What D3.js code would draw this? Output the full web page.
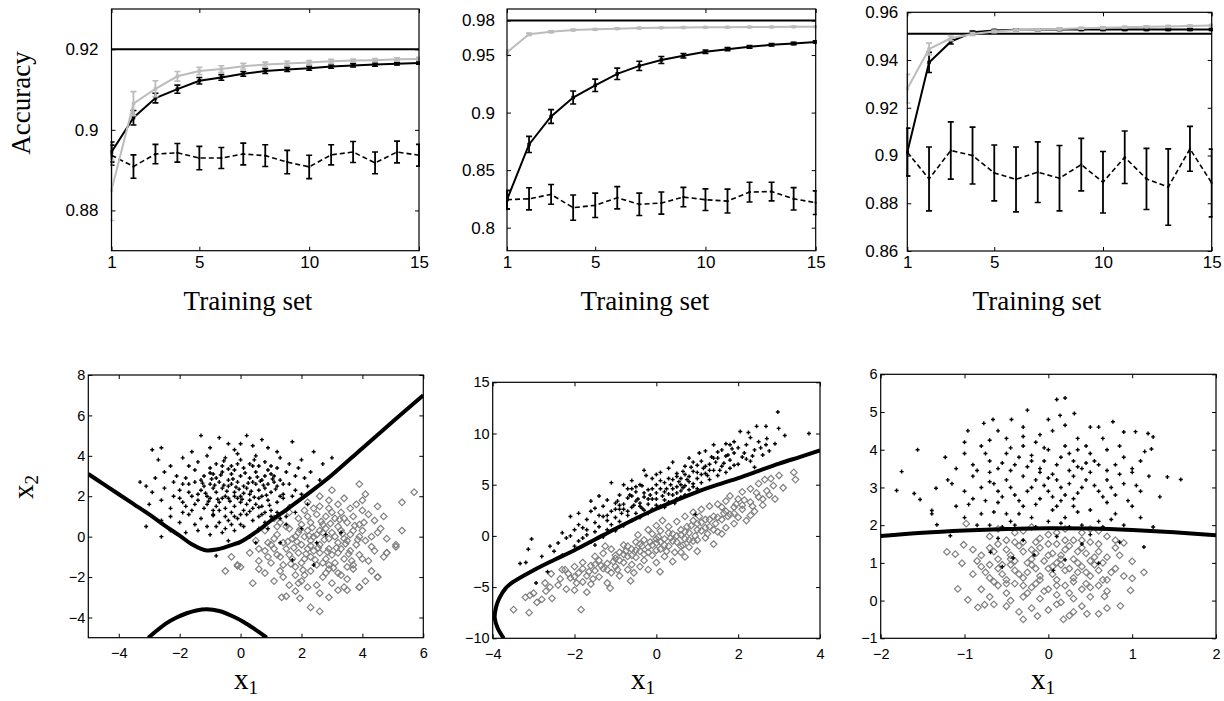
<!DOCTYPE html>
<html><head><meta charset="utf-8">
<script src="https://cdn.jsdelivr.net/npm/d3@7"></script>
<style>body{margin:0;background:#fff}svg{display:block}</style>
</head><body>
<svg id="c" width="1224" height="701"></svg>
<script>
// ---------------- DATA ----------------
const trainSizes = [1,2,3,4,5,6,7,8,9,10,11,12,13,14,15];
const xTickVals = [1,5,10,15];
const xTickLabels = ["1","5","10","15"];

const acc1Ref = 0.92;
const acc1Gray = [0.885,0.9065,0.9102,0.9133,0.9146,0.9151,0.9158,0.9162,0.9165,0.9167,0.9170,0.9172,0.9173,0.9175,0.9176];
const acc1GrayErr = [0.0075,0.003,0.002,0.0012,0.0009,0.0008,0.0007,0.0006,0.0006,0.0005,0.0005,0.0004,0.0004,0.0004,0.0004];
const acc1Black = [0.8945,0.9030,0.9079,0.9101,0.9122,0.9130,0.9139,0.9146,0.9150,0.9153,0.9157,0.9160,0.9162,0.9164,0.9166];
const acc1BlackErr = [0.0025,0.0018,0.0012,0.001,0.0008,0.0007,0.0006,0.0006,0.0005,0.0005,0.0004,0.0004,0.0004,0.0003,0.0003];
const acc1Dash = [0.8937,0.8909,0.8940,0.8943,0.8930,0.8930,0.8940,0.8936,0.8920,0.8908,0.8938,0.8945,0.8918,0.8945,0.8937];
const acc1DashErr = [0.0025,0.0029,0.0024,0.0023,0.0029,0.0026,0.0027,0.0027,0.0029,0.0029,0.0025,0.0026,0.0027,0.0027,0.0027];
const acc1YTicks = [0.88,0.9,0.92];
const acc1YLabels = ["0.88","0.9","0.92"];

const acc2Ref = 0.98;
const acc2Gray = [0.9523,0.968,0.9703,0.9717,0.9723,0.9729,0.9734,0.9737,0.9739,0.9741,0.9742,0.9743,0.9744,0.9745,0.9746];
const acc2GrayErr = [0.002,0.001,0.0008,0.0006,0.0005,0.0005,0.0005,0.0004,0.0004,0.0004,0.0004,0.0004,0.0004,0.0004,0.0004];
const acc2Black = [0.8243,0.8723,0.8966,0.9131,0.9237,0.9337,0.9406,0.9457,0.9494,0.9529,0.9551,0.9571,0.9589,0.9600,0.9614];
const acc2BlackErr = [0.008,0.007,0.006,0.0057,0.0054,0.0049,0.004,0.003,0.002,0.0015,0.0013,0.0012,0.0011,0.001,0.001];
const acc2Dash = [0.8243,0.8251,0.8289,0.8174,0.8194,0.8260,0.8203,0.8214,0.8266,0.8243,0.8231,0.8309,0.8314,0.8251,0.8217];
const acc2DashErr = [0.008,0.0096,0.0086,0.011,0.0106,0.0097,0.0097,0.0096,0.0084,0.0094,0.0104,0.0086,0.0081,0.0097,0.0103];
const acc2YTicks = [0.8,0.85,0.9,0.95,0.98];
const acc2YLabels = ["0.8","0.85","0.9","0.95","0.98"];

const acc3Ref = 0.951;
const acc3Gray = [0.928,0.9446,0.9491,0.9509,0.9520,0.9526,0.9527,0.9530,0.9533,0.9535,0.9537,0.9539,0.9541,0.9543,0.9545];
const acc3GrayErr = [0.006,0.0025,0.001,0.0006,0.0005,0.0004,0.0004,0.0004,0.0004,0.0004,0.0004,0.0004,0.0004,0.0004,0.0004];
const acc3Black = [0.9014,0.939,0.9477,0.9516,0.9524,0.9527,0.9527,0.9528,0.9528,0.9528,0.9528,0.9528,0.9528,0.9528,0.9528];
const acc3BlackErr = [0.01,0.0042,0.001,0.0005,0.0004,0.0004,0.0004,0.0004,0.0004,0.0004,0.0004,0.0004,0.0004,0.0004,0.0004];
const acc3Dash = [0.9014,0.8902,0.9021,0.9,0.8927,0.89,0.893,0.8905,0.8962,0.8888,0.8993,0.8902,0.8868,0.9028,0.8885];
const acc3DashErr = [0.01,0.0134,0.012,0.0119,0.0117,0.0136,0.0127,0.0137,0.011,0.0129,0.011,0.0128,0.016,0.0094,0.0142];
const acc3YTicks = [0.86,0.88,0.9,0.92,0.94,0.96];
const acc3YLabels = ["0.86","0.88","0.9","0.92","0.94","0.96"];

// scatter 1
const scat1Black = [[-1.3,5.0],[-2.9,4.3],[-2.6,4.4],[0.2,5.0],[-0.7,4.9],[0.7,4.8],[1.7,4.7],[-0.4,4.6],[0.4,4.5],[-1.0,4.4],[0.9,4.4],[-0.2,4.3],[1.2,4.2],[-1.6,4.2],[0.0,4.6],
[-2.7,3.8],[-1.9,3.9],[-1.4,3.7],[-1.1,4.0],[-0.8,3.6],[-0.5,3.9],[-0.3,3.5],[0.0,3.8],[0.3,3.6],[0.5,4.0],[0.8,3.7],[1.0,3.5],[1.3,3.9],[1.6,3.6],[2.0,3.8],[2.4,4.2],[3.0,3.9],[2.7,3.6],[-2.3,3.5],[-1.7,3.5],[-0.1,4.1],[0.6,3.5],[-0.6,3.5],[1.9,3.4],
[-3.3,2.7],[-3.1,2.5],[-2.5,3.2],[-2.1,3.0],[-1.8,2.9],[-1.5,3.3],[-1.2,3.0],[-1.0,3.4],[-0.8,2.9],[-0.6,3.2],[-0.4,2.8],[-0.2,3.3],[0.0,3.0],[0.1,3.4],[0.3,2.9],[0.5,3.2],[0.7,2.8],[0.9,3.3],[1.1,3.0],[1.3,2.8],[1.5,3.2],[1.8,3.0],[2.1,2.9],[2.3,3.2],[-1.3,2.8],[-0.3,3.1],[0.4,3.5],[1.2,3.4],[-0.9,3.1],[0.8,3.0],[-2.8,2.9],[2.6,2.8],
[-2.9,2.2],[-2.5,2.4],[-2.2,2.0],[-1.9,2.6],[-1.7,2.2],[-1.5,2.7],[-1.3,2.3],[-1.1,2.0],[-1.0,2.6],[-0.8,2.2],[-0.7,2.7],[-0.5,2.0],[-0.4,2.5],[-0.2,2.2],[-0.1,2.7],[0.0,2.0],[0.2,2.4],[0.3,2.1],[0.4,2.7],[0.6,2.3],[0.7,2.0],[0.9,2.6],[1.0,2.2],[1.2,2.5],[1.4,2.1],[1.6,2.6],[1.8,2.3],[2.0,2.1],[-1.6,2.0],[-0.6,2.4],[0.1,2.5],[0.5,2.6],[1.1,2.7],[-0.9,2.4],[-0.3,2.6],[0.8,2.4],[-1.2,2.5],[1.3,2.0],[-2.0,2.3],[-0.2,2.0],
[-3.0,1.6],[-2.6,1.8],[-2.3,1.4],[-2.0,1.9],[-1.8,1.5],[-1.6,1.3],[-1.4,1.8],[-1.2,1.4],[-1.0,1.9],[-0.9,1.3],[-0.7,1.7],[-0.5,1.4],[-0.4,1.9],[-0.2,1.5],[0.0,1.7],[0.1,1.3],[0.3,1.8],[0.4,1.4],[0.6,1.9],[0.7,1.5],[0.9,1.8],[1.0,1.3],[1.2,1.7],[1.4,1.9],[1.6,1.5],[-1.1,1.6],[-0.3,1.2],[0.2,1.6],[0.8,1.2],[-0.6,1.9],[-1.5,1.6],[0.5,1.6],[-0.8,1.5],[-0.1,1.9],
[-3.1,0.5],[-2.6,0.8],[-2.3,1.0],[-2.0,0.7],[-1.7,1.1],[-1.5,0.6],[-1.3,0.9],[-1.1,0.5],[-0.9,1.1],[-0.7,0.7],[-0.5,1.0],[-0.3,0.6],[-0.1,0.9],[0.1,0.5],[0.2,1.1],[0.4,0.8],[0.6,1.0],[0.8,0.7],[1.0,1.0],[1.3,0.9],[-0.8,0.5],[-1.9,1.2],[0.0,1.1],[-0.4,0.8],
[-2.6,0.0],[-2.3,0.3],[-1.8,0.2],[-1.4,0.3],[-1.0,0.1],[-0.6,0.2],[-0.2,0.3],[0.3,0.0],[0.6,0.4],[-0.8,-0.95],[-0.4,-0.2],[0.5,-0.3],
[1.7,-1.15],[2.4,-1.4],[2.8,0.1],[3.3,0.2],[2.0,0.4],[1.3,-0.3],[2.5,-0.3],[1.5,0.6],[1.8,1.2],[2.2,1.6],
[-1.15,2.15],[-0.95,2.85],[-0.75,1.85],[-0.55,2.55],[-0.35,1.75],[-0.15,2.45],[0.05,1.85],[0.25,2.65],[0.45,1.95],[0.65,2.75],[0.85,2.05],[1.05,2.85],[-1.05,1.75],[-0.85,2.55],[-0.65,3.05],[-0.45,2.25],[-0.25,2.85],[-0.05,2.35],[0.15,3.15],[0.35,2.25],[0.55,2.95],[0.75,2.55],[0.95,1.55],[1.15,2.35],[-1.25,2.65],[-0.7,1.3],[-0.2,1.0],[0.3,1.25],[0.7,1.1],[-1.4,2.1],[1.4,2.6],[-0.1,3.6],[0.45,3.8],[-0.55,3.75],[1.0,3.1],[-1.0,3.15],[0.1,2.15],[-0.4,3.35],[0.6,1.45],[-0.9,1.05],[1.5,1.0],[1.7,2.0],[-1.7,2.6],[-1.9,1.7],[2.2,2.5],[-2.2,2.7],[0.0,0.6],[-0.5,0.4],[0.9,0.4],[1.2,1.2]];
const scat1Gray = [[3.9,2.6],[4.1,2.1],[3.0,2.3],[2.6,2.0],[3.4,1.9],[5.7,2.2],[5.3,1.7],[4.5,1.5],[3.8,1.6],[2.2,1.7],[3.2,1.6],[2.9,1.8],[4.0,1.8],
[1.6,1.2],[1.9,0.9],[2.1,1.3],[2.3,0.7],[2.5,1.1],[2.7,0.6],[2.9,1.4],[3.1,0.9],[3.3,1.2],[3.5,0.7],[3.7,1.0],[3.9,0.6],[4.2,1.1],[4.7,1.0],[1.3,0.7],[1.1,0.9],[2.0,0.6],[2.8,1.0],[3.6,1.4],[4.4,0.8],[1.5,0.5],[2.4,1.4],[3.2,0.5],[4.0,1.3],
[0.5,-0.2],[0.8,0.3],[1.0,-0.4],[1.2,0.1],[1.4,-0.3],[1.6,0.4],[1.7,-0.1],[1.9,0.2],[2.0,-0.4],[2.2,0.3],[2.3,-0.2],[2.5,0.1],[2.6,-0.4],[2.8,0.4],[2.9,-0.1],[3.0,0.2],[3.2,-0.3],[3.3,0.3],[3.5,-0.2],[3.6,0.1],[3.8,-0.4],[4.0,0.3],[4.1,-0.2],[4.3,0.0],[4.6,0.4],[5.1,-0.5],[5.3,0.3],[4.8,-0.1],[1.1,-0.1],[1.8,0.0],[2.4,0.0],[2.7,0.2],[3.1,0.0],[3.4,-0.1],[3.9,0.0],[2.1,0.0],[2.6,0.3],[3.7,0.3],
[-0.3,-1.0],[-0.1,-1.4],[0.3,-0.8],[0.6,-1.2],[0.8,-0.7],[1.0,-1.3],[1.2,-0.9],[1.4,-1.4],[1.5,-0.6],[1.7,-1.1],[1.9,-0.8],[2.0,-1.3],[2.2,-0.6],[2.3,-1.0],[2.5,-1.4],[2.6,-0.8],[2.8,-1.1],[2.9,-0.6],[3.1,-1.3],[3.2,-0.8],[3.4,-1.1],[3.6,-0.7],[3.7,-1.4],[3.9,-0.9],[4.2,-1.2],[4.4,-0.7],[4.8,-0.8],[1.1,-0.6],[1.8,-1.5],[2.4,-0.7],[3.0,-0.9],[3.5,-1.5],[2.1,-1.1],[2.7,-1.3],[3.3,-0.6],[0.9,-1.0],[4.0,-1.1],[1.6,-0.9],[2.9,-1.4],
[-0.5,-1.7],[0.4,-2.3],[0.8,-1.8],[1.1,-2.2],[1.3,-1.7],[1.6,-2.4],[1.8,-1.9],[2.0,-2.2],[2.3,-1.7],[2.5,-2.4],[2.7,-2.0],[3.0,-2.3],[3.2,-1.8],[3.5,-2.1],[3.7,-1.6],[4.1,-2.2],[4.5,-2.0],[3.9,-2.5],[2.2,-2.5],[1.4,-2.0],[2.9,-1.6],[0.6,-1.6],[3.4,-2.5],[4.3,-1.7],
[2.3,-3.5],[2.6,-3.7],[2.9,-3.0],[1.95,-3.05],[1.35,-3.0],[1.5,-2.95],[3.2,-2.65],[3.5,-2.65],[3.9,-2.5],[1.8,-2.7],[2.6,-2.8],
[4.7,-1.0],[5.1,-0.4],[4.8,-0.8],[4.5,-2.0],[0.0,-1.5],[-0.1,-1.45],
[1.55,-0.25],[1.75,-0.55],[1.95,0.35],[2.15,-0.85],[2.35,0.45],[2.55,-0.55],[2.75,-0.15],[2.95,0.65],[3.15,-0.55],[3.35,0.15],[3.55,-0.85],[3.75,0.55],[1.65,-1.35],[1.85,-0.25],[2.05,-1.65],[2.25,0.05],[2.45,-1.15],[2.65,0.75],[2.85,-0.75],[3.05,-1.55],[3.25,0.85],[3.45,-0.35],[3.65,-1.2],[3.85,-0.15],[4.05,0.7],[2.2,1.0],[2.6,1.5],[3.0,1.2],[1.3,-1.0],[4.3,-0.5],[2.1,-1.9],[2.8,-1.8],[3.3,-1.9],[1.9,-2.3],[1.2,0.5],[0.9,-0.3],[0.6,-0.6],[4.5,0.2],[3.4,0.9],[2.3,-0.45]];
const bound1Upper = [[-5,3.1],[-4.5,2.6],[-4,2.1],[-3.5,1.6],[-3,1.1],[-2.5,0.56],[-2,0.05],[-1.6,-0.38],[-1.3,-0.6],[-1.1,-0.68],[-0.8,-0.64],[-0.5,-0.52],[-0.2,-0.37],[0,-0.26],[0.5,0.22],[1,0.8],[1.5,1.33],[2,1.88],[2.5,2.45],[3,3.05],[4,4.38],[5,5.7],[6,7.0]];
const bound1Lower = [[-3.03,-5],[-2.43,-4.28],[-2.1,-4.0],[-1.77,-3.79],[-1.45,-3.65],[-1.11,-3.59],[-0.7,-3.68],[-0.24,-3.95],[0.1,-4.22],[0.42,-4.53],[0.86,-5]];

// scatter 2
const scat2Black = [[-3.05,-0.3],[-3.13,-1.3],[-3.33,-2.7],[-3.19,-2.6],[-2.94,-4.6],[-2.66,-3.5],[-2.5,-1.5],[-2.4,-0.7],[-2.3,-1.9],[-2.2,-0.2],[-2.1,1.9],[-2.0,-1.0],[-2.0,0.6],[-1.9,-0.5],[-2.6,-1.0],[-2.8,-2.0],[-2.3,0.3],
[-1.9,1.1],[-1.8,-0.2],[-1.8,0.8],[-1.7,1.6],[-1.7,0.1],[-1.6,2.4],[-1.6,-0.6],[-1.5,1.3],[-1.5,0.4],[-1.4,2.0],[-1.4,0.9],[-1.3,-0.1],[-1.3,2.9],[-1.2,1.5],[-1.2,0.6],[-1.1,2.4],[-1.1,5.2],[-1.1,1.1],[-1.0,3.2],[-1.0,0.5],[-1.0,1.8],[-1.9,2.2],[-1.6,3.4],[-1.4,3.9],[-1.2,3.5],[-1.5,-0.9],
[-0.9,2.6],[-0.9,1.4],[-0.9,4.0],[-0.8,3.1],[-0.8,1.0],[-0.8,5.0],[-0.7,2.0],[-0.7,3.7],[-0.7,4.6],[-0.6,2.8],[-0.6,1.5],[-0.6,5.4],[-0.5,3.4],[-0.5,2.2],[-0.5,4.3],[-0.4,2.9],[-0.4,1.8],[-0.4,5.0],[-0.3,3.8],[-0.3,2.5],[-0.3,6.4],[-0.2,4.5],[-0.2,3.1],[-0.2,2.2],[-0.1,5.6],[-0.1,3.6],[-0.1,2.6],[0.0,4.2],[0.0,3.0],[0.0,5.0],[-0.95,3.4],[-0.65,4.0],[-0.35,4.9],[-0.15,4.0],[-0.85,2.2],[-0.45,3.6],[-0.25,5.9],[-0.55,3.0],
[0.1,2.9],[0.1,4.6],[0.1,6.2],[0.2,3.5],[0.2,5.2],[0.2,2.8],[0.3,4.1],[0.3,6.6],[0.3,3.3],[0.4,5.5],[0.4,4.0],[0.4,7.2],[0.5,3.6],[0.5,4.8],[0.5,6.1],[0.6,4.4],[0.6,5.6],[0.6,3.8],[0.7,6.8],[0.7,4.9],[0.7,4.0],[0.8,5.8],[0.8,7.6],[0.8,4.5],[0.9,6.3],[0.9,5.1],[0.95,2.1],[1.0,4.6],[1.0,6.9],[1.0,5.6],[0.15,3.9],[0.35,5.0],[0.55,5.3],[0.75,5.5],[0.25,4.6],[0.65,6.3],[0.85,6.7],[0.45,3.2],
[1.1,5.2],[1.1,7.3],[1.2,6.1],[1.2,8.3],[1.3,5.5],[1.3,7.0],[1.4,6.4],[1.4,8.9],[1.5,5.9],[1.5,7.6],[1.6,6.8],[1.6,8.4],[1.7,6.2],[1.7,9.0],[1.8,7.4],[1.8,6.6],[1.9,8.1],[1.9,9.2],[2.0,7.0],[2.0,8.6],[1.15,6.6],[1.35,7.7],[1.55,6.4],[1.75,7.9],[1.25,5.9],[1.45,7.2],[1.65,7.1],[1.85,8.5],[1.05,8.1],[1.9,6.9],
[2.05,10.2],[2.1,7.7],[2.2,8.9],[2.25,10.1],[2.3,7.3],[2.4,8.4],[2.45,10.7],[2.5,9.2],[2.6,7.9],[2.68,10.7],[2.68,8.9],[2.76,8.3],[2.97,12.1],[2.99,10.5],[3.14,9.8],[3.73,10.0],[2.3,9.6],[2.15,8.1],[2.55,8.6],[2.35,7.8],[2.7,9.5],[2.9,9.0],[2.4,6.7],
[-1.2,2.0],[-1.0,2.6],[-0.8,2.6],[-0.6,3.9],[-0.4,3.2],[-0.2,3.6],[0.0,3.6],[0.2,4.3],[0.4,4.6],[0.6,5.0],[0.8,5.3],[1.0,6.2],[1.2,6.8],[1.4,7.6],[-0.9,3.0],[-0.7,2.4],[-0.5,4.8],[-0.3,4.2],[-0.1,4.6],[0.1,5.4],[0.3,5.6],[0.5,5.8],[0.7,6.0],[0.9,7.2],[1.1,6.0],[1.3,6.4],[1.5,8.2],[1.7,7.8],[-1.3,1.9],[-1.5,2.7],[-0.6,4.6],[0.0,6.0],[0.5,4.2],[0.9,4.8],[1.8,8.9],[2.2,7.5],[-1.7,0.6],[-2.1,0.0],[-0.35,2.7],[0.65,4.7]];
const scat2Gray = [[-3.49,-7.2],[-3.11,-7.5],[-3.09,-5.8],[-2.92,-6.5],[-2.8,-6.2],[-3.0,-5.6],[-2.72,-4.6],[-2.57,-3.7],[-2.7,-5.4],[-2.6,-5.0],[-3.2,-6.0],[-2.55,-6.1],
[-2.4,-4.8],[-2.3,-3.3],[-2.23,-3.3],[-2.2,-5.2],[-2.1,-4.1],[-2.0,-3.0],[-2.0,-5.3],[-1.9,-3.6],[-1.84,-7.2],[-1.8,-4.5],[-1.8,-2.6],[-1.7,-3.9],[-1.7,-5.5],[-1.6,-2.9],[-1.6,-4.7],[-1.5,-3.4],[-1.5,-2.0],[-2.35,-4.2],[-1.95,-4.6],[-2.15,-3.7],[-1.65,-3.5],[-1.55,-4.2],
[-1.4,-2.4],[-1.4,-4.0],[-1.3,-3.2],[-1.3,-1.7],[-1.2,-2.7],[-1.2,-4.6],[-1.13,-5.1],[-1.1,-3.6],[-1.1,-1.3],[-1.0,-2.2],[-1.0,-3.0],[-0.9,-1.6],[-0.9,-3.9],[-0.8,-2.6],[-0.8,-0.9],[-0.7,-2.0],[-0.7,-3.3],[-0.63,-4.4],[-0.6,-1.3],[-0.6,-2.8],[-0.5,-0.6],[-0.5,-2.1],[-1.35,-2.9],[-1.05,-2.5],[-0.95,-3.3],[-0.75,-1.5],[-0.55,-3.6],[-1.25,-1.0],
[-0.4,-1.5],[-0.4,-3.0],[-0.3,-0.4],[-0.3,-2.4],[-0.2,-1.1],[-0.2,-3.3],[-0.1,0.2],[-0.1,-1.9],[0.0,-0.7],[0.0,-2.6],[0.0,1.0],[0.09,-3.5],[0.1,-1.3],[0.1,0.5],[0.2,-0.3],[0.2,-2.0],[0.3,0.9],[0.3,-1.0],[0.4,-2.5],[0.4,0.2],[0.5,-0.6],[0.5,1.4],[-0.35,-1.0],[-0.15,-0.6],[0.05,-0.1],[0.25,-1.5],[0.45,-1.6],[-0.45,0.1],[0.15,1.5],[0.35,-0.2],
[0.6,-1.6],[0.6,0.6],[0.7,-2.05],[0.7,1.9],[0.7,-0.3],[0.8,0.3],[0.8,-1.1],[0.9,2.3],[0.9,-0.5],[1.0,1.2],[1.0,-1.5],[1.1,0.5],[1.1,2.6],[1.2,-0.2],[1.2,1.6],[1.3,0.9],[1.3,2.9],[1.4,-0.8],[1.4,1.9],[1.5,0.4],[1.5,3.1],[0.65,-0.9],[0.85,1.0],[0.95,0.0],[1.05,1.9],[1.25,0.2],[1.45,1.2],[0.75,0.9],
[1.6,1.6],[1.6,2.8],[1.7,0.8],[1.7,3.4],[1.8,2.1],[1.8,3.9],[1.9,1.2],[1.9,2.8],[2.0,3.6],[2.0,1.8],[2.1,4.3],[2.1,2.6],[2.2,1.5],[2.3,3.3],[2.3,4.6],[2.4,2.4],[2.5,3.8],[2.5,5.1],[2.6,3.0],[2.7,4.4],[2.76,4.0],[2.86,4.9],[2.8,5.6],[2.9,3.6],[3.0,5.9],[3.1,4.7],[3.36,6.2],[3.4,5.5],[1.65,2.2],[1.95,3.1],[2.15,3.5],[2.45,4.2],[2.65,5.5],[1.75,1.9],[2.35,2.9],
[-1.0,-1.9],[-0.8,-1.8],[-0.6,-1.9],[-0.4,-0.8],[-0.2,-1.6],[0.0,-0.3],[0.2,-0.9],[0.4,-0.5],[0.6,0.1],[0.8,-0.4],[1.0,0.6],[1.2,0.8],[1.4,0.6],[-0.9,-2.4],[-0.7,-1.0],[-0.5,-1.4],[-0.3,-1.8],[-0.1,-0.9],[0.1,-0.6],[0.3,0.3],[0.5,0.0],[0.7,0.4],[0.9,1.5],[1.1,1.3],[1.3,1.6],[1.5,1.8],[1.7,2.4],[1.9,2.2],[2.1,3.0],[2.3,2.0],[-1.2,-3.3],[-1.5,-2.8],[-1.8,-3.2],[-2.0,-4.0],[0.0,-1.4],[0.6,-1.0],[1.0,-0.4],[1.6,0.2],[2.6,3.6],[-0.2,0.6]];
const bound2 = [[-3.73,-10],[-3.88,-9],[-3.95,-8],[-3.92,-7],[-3.84,-6.1],[-3.68,-5.1],[-3.5,-4.5],[-3,-3.35],[-2.5,-2.35],[-2,-1.4],[-1.5,-0.35],[-1,0.7],[-0.5,1.7],[0,2.65],[0.5,3.5],[1,4.3],[1.5,5.0],[2,5.65],[2.5,6.35],[3,7.05],[3.5,7.7],[4,8.35]];

// scatter 3
const scat3Black = [[-0.96,4.5],[-0.77,4.7],[-0.66,4.8],[-0.44,4.8],[-0.25,5.05],[0.10,5.33],[0.2,5.37],[0.31,4.96],[0.14,4.91],[0.5,4.6],[0.77,4.74],[0.9,4.47],[1.04,4.48],[1.19,4.43],[1.25,4.34],[-1.56,4.0],[-0.5,4.3],[-0.1,4.4],[0.0,4.8],[0.35,4.3],[-0.3,4.6],[0.65,4.3],[-0.15,4.2],[0.05,4.5],[-0.7,4.25],[0.2,4.65],
[-1.23,3.8],[-1.0,3.9],[-0.9,3.6],[-0.8,4.1],[-0.7,3.7],[-0.6,3.5],[-0.5,3.9],[-0.4,3.6],[-0.3,4.1],[-0.2,3.7],[-0.1,3.5],[0.0,4.0],[0.1,3.6],[0.2,4.1],[0.3,3.7],[0.4,3.5],[0.5,3.9],[0.6,3.6],[0.7,4.0],[0.8,3.6],[0.9,3.8],[1.0,3.5],[1.23,4.02],[1.1,3.7],[-1.1,3.5],[-0.35,3.8],[0.15,3.8],[0.55,3.7],[-0.75,3.9],[0.35,4.0],[-0.05,3.7],[0.85,4.1],
[-1.81,2.92],[-1.75,3.42],[-1.34,2.98],[-1.2,3.2],[-1.0,2.9],[-0.9,3.3],[-0.8,3.0],[-0.7,3.4],[-0.6,2.9],[-0.5,3.2],[-0.4,2.8],[-0.3,3.3],[-0.2,3.0],[-0.1,3.4],[0.0,2.9],[0.1,3.2],[0.2,2.8],[0.3,3.3],[0.4,3.0],[0.5,3.4],[0.6,2.9],[0.7,3.2],[0.8,2.8],[0.9,3.1],[1.0,3.4],[1.1,2.9],[1.42,3.28],[1.58,3.21],[1.2,3.3],[-0.45,3.0],[-0.15,3.2],[0.15,3.0],[0.45,3.2],[0.75,3.0],[-0.65,3.1],[0.25,3.1],[-0.25,2.9],[-1.6,2.84],[-1.53,2.68],[1.33,2.75],
[-1.39,2.39],[-1.39,2.3],[-1.33,2.01],[-1.1,2.5],[-1.0,2.2],[-0.9,2.7],[-0.8,2.3],[-0.7,2.0],[-0.6,2.6],[-0.5,2.3],[-0.4,2.0],[-0.3,2.5],[-0.2,2.2],[-0.1,2.7],[0.0,2.1],[0.1,2.5],[0.2,2.2],[0.3,2.7],[0.4,2.0],[0.5,2.4],[0.6,2.1],[0.7,2.6],[0.8,2.3],[0.9,2.0],[1.0,2.5],[1.1,2.2],[1.25,1.95],[-0.85,2.0],[-0.55,1.95],[-0.15,1.95],[0.25,1.95],[0.65,1.95],[-0.35,2.3],[0.35,2.35],[-0.65,2.35],[0.05,2.4],
[0.06,0.8],[0.2,1.08],[-0.17,1.21],[-0.42,1.13],[-0.55,0.9],[0.6,0.99],[-0.69,1.28],[-1.17,1.72],[1.14,1.42],[0.4,1.5],[-0.3,1.6],[0.1,1.7],[0.5,1.75],[-0.6,1.65],[0.85,1.55],
[-0.55,2.75],[-0.45,3.45],[-0.35,2.65],[-0.25,3.55],[-0.05,3.05],[0.05,3.35],[0.15,2.65],[0.25,3.45],[0.35,2.85],[0.45,3.65],[0.55,3.05],[0.65,2.75],[-0.55,3.65],[-0.15,2.55],[0.05,2.75],[0.35,3.55],[-0.75,2.65],[0.85,3.35],[-0.85,3.45],[0.95,2.65],[-0.3,4.35],[0.25,3.9],[-0.45,4.05],[0.45,4.1],[-0.05,4.05],[0.7,3.45],[-0.7,3.15],[-0.95,2.55],[1.05,3.05],[-1.15,3.1],[0.0,3.25],[-0.2,3.85],[0.6,4.6],[-0.6,4.5],[0.3,2.5],[-0.45,2.1],[0.15,2.05],[0.75,2.15],[-1.0,4.2],[1.15,3.95]];
const scat3Gray = [[-1.21,1.29],[-1.11,1.23],[-1.08,0.31],[-0.96,0.02],[-0.84,-0.18],[-0.76,-0.11],[-1.03,0.99],[-0.98,2.04],[-1.01,1.48],[-0.3,-0.5],[-0.13,-0.41],[0.18,-0.5],[0.46,-0.35],[0.6,-0.35],[0.86,-0.14],[0.98,0.27],[1.0,0.59],[1.14,0.75],[1.0,1.04],[0.9,1.53],[0.67,0.11],
[-0.6,1.9],[-0.4,1.8],[-0.2,1.95],[0.0,1.75],[0.2,1.9],[0.4,1.8],[0.6,1.85],[-0.5,1.6],[-0.3,1.55],[-0.1,1.65],[0.1,1.5],[0.3,1.6],[0.5,1.55],[0.7,1.7],[-0.7,1.7],[0.8,1.6],
[-0.8,1.2],[-0.7,1.4],[-0.6,1.1],[-0.5,1.35],[-0.4,1.05],[-0.3,1.3],[-0.2,1.1],[-0.1,1.4],[0.0,1.2],[0.1,1.0],[0.2,1.35],[0.3,1.1],[0.4,1.4],[0.5,1.05],[0.6,1.3],[0.7,1.15],[0.8,1.4],[-0.9,1.35],[-0.45,1.2],[-0.15,1.25],[0.15,1.2],[0.45,1.25],[-0.65,1.3],[0.25,1.45],[-0.35,1.45],[0.65,1.0],
[-0.9,0.7],[-0.8,0.9],[-0.7,0.6],[-0.6,0.85],[-0.5,0.55],[-0.4,0.8],[-0.3,0.6],[-0.2,0.95],[-0.1,0.65],[0.0,0.85],[0.1,0.55],[0.2,0.8],[0.3,0.6],[0.4,0.9],[0.5,0.65],[0.6,0.8],[0.7,0.55],[0.8,0.85],[-0.55,0.7],[-0.25,0.75],[0.05,0.7],[0.35,0.75],[-0.45,0.95],[0.15,0.95],[0.55,0.95],[-0.75,0.75],[0.9,0.65],
[-0.8,0.3],[-0.7,0.1],[-0.6,0.4],[-0.5,0.2],[-0.4,0.45],[-0.3,0.1],[-0.2,0.35],[-0.1,0.05],[0.0,0.3],[0.1,0.15],[0.2,0.4],[0.3,0.05],[0.4,0.3],[0.5,0.1],[0.6,0.4],[0.7,0.25],[-0.45,0.0],[0.15,-0.05],[-0.15,0.45],[0.45,0.45],
[-0.5,-0.15],[-0.35,-0.3],[-0.2,-0.2],[0.0,-0.25],[0.1,-0.1],[0.3,-0.3],[0.4,-0.15],[0.7,-0.2],[-0.65,-0.1],[0.25,-0.4],
[-0.45,1.1],[-0.35,0.7],[-0.25,1.0],[-0.15,0.85],[-0.05,1.05],[0.05,0.9],[0.15,1.1],[0.25,0.85],[0.35,1.0],[0.45,0.75],[-0.55,0.95],[0.55,1.15],[-0.3,0.4],[-0.1,0.55],[0.1,0.4],[0.3,0.5],[0.5,0.35],[-0.5,0.45],[-0.2,1.35],[0.0,1.5],[0.2,1.6],[-0.4,1.55],[0.4,1.6],[0.6,1.5],[-0.6,1.5],[-0.7,0.95],[0.75,0.75],[-0.05,0.25],[0.25,0.2],[-0.25,0.2],[0.05,1.25],[0.35,1.3],[-0.15,1.55],[0.65,0.55],[-0.65,0.5],[0.85,1.2],[-0.85,1.05],[0.1,1.8],[-0.3,1.85],[0.5,1.9]];
const bound3 = [[-2,1.71],[-1.5,1.8],[-1,1.86],[-0.5,1.9],[0,1.92],[0.5,1.91],[1,1.87],[1.5,1.81],[2,1.73]];

const scat1XTicks=[-4,-2,0,2,4,6], scat1YTicks=[-4,-2,0,2,4,6,8];
const scat2XTicks=[-4,-2,0,2,4], scat2YTicks=[-10,-5,0,5,10,15];
const scat3XTicks=[-2,-1,0,1,2], scat3YTicks=[-1,0,1,2,3,4,5,6];

// ---------------- DRAW ----------------
const svg = d3.select('#c');
const SANS = '"Liberation Sans", Arial, sans-serif';
const SERIF = '"Liberation Serif", "Times New Roman", serif';
let clipId = 0;
const fmtNum = d => (d<0 ? '\u2212' : '') + Math.abs(d);

function frame(g, x, y, L, R, T, B, o) {
  const tl = 4;
  const bx = g.append('g').attr('transform', `translate(0,${B})`)
    .call(d3.axisBottom(x).tickValues(o.xt).tickFormat((d,i)=>o.xl ? o.xl[i] : fmtNum(d)).tickSize(-tl).tickPadding(o.xpad));
  const tx = g.append('g').attr('transform', `translate(0,${T})`)
    .call(d3.axisTop(x).tickValues(o.xt).tickFormat('').tickSize(-tl));
  const ly = g.append('g').attr('transform', `translate(${L},0)`)
    .call(d3.axisLeft(y).tickValues(o.yt).tickFormat((d,i)=>o.yl ? o.yl[i] : fmtNum(d)).tickSize(-tl).tickPadding(o.ypad));
  const ry = g.append('g').attr('transform', `translate(${R},0)`)
    .call(d3.axisRight(y).tickValues(o.yt).tickFormat('').tickSize(-tl));
  [bx,tx,ly,ry].forEach(a => {
    a.select('.domain').remove();
    a.selectAll('line').attr('stroke','#000').attr('stroke-width',1);
    a.selectAll('text').attr('font-family', SANS).attr('font-size', o.fs).attr('fill','#000');
  });
  g.append('rect').attr('x',L).attr('y',T).attr('width',R-L).attr('height',B-T)
    .attr('fill','none').attr('stroke','#000').attr('stroke-width',1.2);
}

function makeClip(L,R,T,B){
  const id = 'clip' + (clipId++);
  svg.append('clipPath').attr('id', id).append('rect').attr('x',L).attr('y',T).attr('width',R-L).attr('height',B-T);
  return `url(#${id})`;
}

function topPanel(L,R,T,B,ydom,yt,yl,ypad,ref,gray,grayErr,black,blackErr,dash,dashErr,labelX){
  const g = svg.append('g');
  const x = d3.scaleLinear().domain([1,15]).range([L,R]);
  const y = d3.scaleLinear().domain(ydom).range([B,T]);
  const plot = g.append('g').attr('clip-path', makeClip(L-1,R+1,T,B));
  plot.append('line').attr('x1',L).attr('x2',R).attr('y1',y(ref)).attr('y2',y(ref))
    .attr('stroke','#000').attr('stroke-width',2);
  const line = vals => d3.line().x((d,i)=>x(trainSizes[i])).y(d=>y(d))(vals);
  function series(vals, errs, color, dashArr, marker) {
    const s = plot.append('g');
    s.append('path').attr('d', line(vals)).attr('fill','none').attr('stroke',color)
      .attr('stroke-width', dashArr ? 1.6 : 2).attr('stroke-dasharray', dashArr || null);
    vals.forEach((v,i) => {
      const cx = x(trainSizes[i]), y0 = y(v-errs[i]), y1 = y(v+errs[i]);
      s.append('line').attr('x1',cx).attr('x2',cx).attr('y1',y0).attr('y2',y1).attr('stroke',color).attr('stroke-width',1.8);
      s.append('line').attr('x1',cx-3).attr('x2',cx+3).attr('y1',y0).attr('y2',y0).attr('stroke',color).attr('stroke-width',1.6);
      s.append('line').attr('x1',cx-3).attr('x2',cx+3).attr('y1',y1).attr('y2',y1).attr('stroke',color).attr('stroke-width',1.6);
      if (marker) s.append('rect').attr('x',cx-marker/2).attr('y',y(v)-marker/2).attr('width',marker).attr('height',marker).attr('fill',color);
    });
  }
  series(dash, dashErr, '#000', '5,3', 2);
  series(black, blackErr, '#000', null, 3.5);
  series(gray, grayErr, '#bcbcbc', null, 3.5);
  frame(g, x, y, L, R, T, B, {xt:xTickVals, xl:xTickLabels, yt:yt, yl:yl, fs:17, xpad:5, ypad:ypad});
  g.append('text').attr('x',labelX).attr('y',310).attr('text-anchor','middle')
    .attr('font-family',SERIF).attr('font-size',27).text('Training set');
}

topPanel(111.5,419,9,250.7,[0.87,0.93],acc1YTicks,acc1YLabels,13,acc1Ref,acc1Gray,acc1GrayErr,acc1Black,acc1BlackErr,acc1Dash,acc1DashErr,248);
topPanel(507,815.7,9,250.7,[0.78,0.99],acc2YTicks,acc2YLabels,12,acc2Ref,acc2Gray,acc2GrayErr,acc2Black,acc2BlackErr,acc2Dash,acc2DashErr,645);
topPanel(907.3,1211.7,12.3,251,[0.86,0.96],acc3YTicks,acc3YLabels,9,acc3Ref,acc3Gray,acc3GrayErr,acc3Black,acc3BlackErr,acc3Dash,acc3DashErr,1037);

svg.append('text').attr('transform','translate(30,103) rotate(-90)').attr('text-anchor','middle')
  .attr('font-family',SERIF).attr('font-size',27).text('Accuracy');

function scatPanel(L,R,T,B,xdom,ydom,xt,yt,blackPts,grayPts,bounds,labelX){
  const g = svg.append('g');
  const x = d3.scaleLinear().domain(xdom).range([L,R]);
  const y = d3.scaleLinear().domain(ydom).range([B,T]);
  const plot = g.append('g').attr('clip-path', makeClip(L,R,T,B));
  const dia = 'M0,-3.3L3.3,0L0,3.3L-3.3,0Z';
  plot.append('g').selectAll('path').data(grayPts).join('path')
    .attr('d', dia).attr('transform', d=>`translate(${x(d[0])},${y(d[1])})`)
    .attr('fill','none').attr('stroke','#808080').attr('stroke-width',1.2);
  const crs = 'M-2,0H2M0,-2V2';
  plot.append('g').selectAll('path').data(blackPts).join('path')
    .attr('d', crs).attr('transform', d=>`translate(${x(d[0])},${y(d[1])})`)
    .attr('fill','none').attr('stroke','#000').attr('stroke-width',1.4);
  const ln = d3.line().x(d=>x(d[0])).y(d=>y(d[1])).curve(d3.curveCatmullRom.alpha(0.5));
  bounds.forEach(b => plot.append('path').attr('d', ln(b)).attr('fill','none').attr('stroke','#000').attr('stroke-width',4));
  frame(g, x, y, L, R, T, B, {xt:xt, yt:yt, fs:14.5, xpad:10, ypad:3});
  const t = g.append('text').attr('x',labelX).attr('y',689).attr('text-anchor','middle')
    .attr('font-family',SERIF).attr('font-size',29);
  t.append('tspan').text('x');
  t.append('tspan').attr('dy',5).attr('font-size',19).text('1');
}

scatPanel(88.3,423.3,375,637.7,[-5,6],[-5,8],scat1XTicks,scat1YTicks,scat1Black,scat1Gray,[bound1Upper,bound1Lower],246);
scatPanel(492.7,820,382.3,638.3,[-4,4],[-10,15],scat2XTicks,scat2YTicks,scat2Black,scat2Gray,[bound2],643);
scatPanel(880.7,1216,374.3,638.3,[-2,2],[-1,6],scat3XTicks,scat3YTicks,scat3Black,scat3Gray,[bound3],1043);

const x2 = svg.append('text').attr('transform','translate(33,487) rotate(-90)').attr('text-anchor','middle')
  .attr('font-family',SERIF).attr('font-size',29);
x2.append('tspan').text('x');
x2.append('tspan').attr('dy',5).attr('font-size',19).text('2');
</script>
</body></html>
